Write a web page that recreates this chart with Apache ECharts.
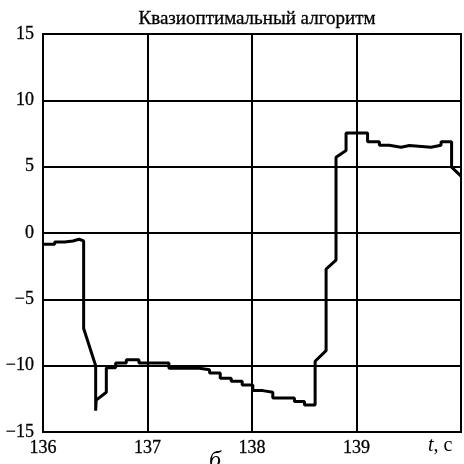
<!DOCTYPE html>
<html>
<head>
<meta charset="utf-8">
<script src="https://cdn.jsdelivr.net/npm/echarts@6/dist/echarts.min.js"></script>
<style>html,body{margin:0;padding:0;background:#fff}#c{width:464px;height:464px}</style>
</head>
<body>
<div id="c"></div>
<script>
var titleText = 'Квазиоптимальный алгоритм';
var xTicks = [136, 137, 138, 139, 140];
var yTicks = [-15, -10, -5, 0, 5, 10, 15];
var times = [
  136.000, 136.112, 136.112, 136.207, 136.207, 136.287, 136.287, 136.344, 136.344, 136.389,
  136.389, 136.504, 136.504, 136.509, 136.606, 136.606, 136.695, 136.695, 136.797, 136.797,
  136.918, 136.918, 137.205, 137.205, 137.498, 137.498, 137.594, 137.594, 137.696, 137.696,
  137.801, 137.801, 137.906, 137.906, 138.008, 138.008, 138.103, 138.103, 138.199, 138.199,
  138.406, 138.406, 138.502, 138.502, 138.604, 138.604, 138.709, 138.709, 138.804, 138.804,
  138.900, 138.900, 139.106, 139.106, 139.219, 139.219, 139.314, 139.314, 139.426, 139.426,
  139.506, 139.506, 139.713, 139.713, 139.809, 139.809, 139.910, 139.910, 140.000
];
var values = [
  -0.85, -0.85, -0.68, -0.68, -0.60, -0.60, -0.47, -0.47, -0.60, -0.60,
  -7.20, -10.00, -13.40, -12.60, -12.00, -10.15, -10.15, -9.80, -9.80, -9.55,
  -9.55, -9.80, -9.80, -10.20, -10.20, -10.30, -10.30, -10.55, -10.55, -10.95,
  -10.95, -11.18, -11.18, -11.45, -11.45, -11.88, -11.88, -12.00, -12.00, -12.43,
  -12.43, -12.70, -12.70, -12.96, -12.96, -9.67, -8.87, -2.73, -2.05, 5.71,
  6.22, 7.54, 7.54, 6.87, 6.87, 6.62, 6.62, 6.47, 6.47, 6.59,
  6.59, 6.47, 6.47, 6.62, 6.62, 6.87, 6.87, 4.96, 4.29
];
var axisName = 't';
var axisUnit = ', c';
var panelLetter = 'б';

var data = times.map(function (t, i) { return [t, values[i]]; });
var chart = echarts.init(document.getElementById('c'), null, {renderer: 'canvas'});
var font = 'Liberation Serif';
chart.setOption({
  animation: false,
  backgroundColor: '#fff',
  title: {
    text: titleText, left: 252, top: 5, textAlign: 'center',
    textStyle: {fontFamily: font, fontSize: 19, fontWeight: 'normal', color: '#000', textBorderColor: '#000', textBorderWidth: 0.3}
  },
  grid: {left: 43, right: 2, top: 34, bottom: 32, show: true, borderColor: '#000', borderWidth: 2, backgroundColor: 'transparent'},
  xAxis: {
    type: 'value', min: xTicks[0], max: xTicks[xTicks.length - 1], interval: 1,
    axisLine: {show: true, lineStyle: {color: '#000', width: 2}},
    axisTick: {show: false},
    splitLine: {show: true, lineStyle: {color: '#000', width: 2}},
    axisLabel: {
      color: '#000', fontFamily: font, fontSize: 18, margin: 7, textBorderColor: '#000', textBorderWidth: 0.3,
      formatter: function (v) { return v === 140 ? '' : String(v); }
    }
  },
  yAxis: {
    type: 'value', min: yTicks[0], max: yTicks[yTicks.length - 1], interval: 5,
    axisLine: {show: true, lineStyle: {color: '#000', width: 2}},
    axisTick: {show: false},
    splitLine: {show: true, lineStyle: {color: '#000', width: 2}},
    axisLabel: {color: '#000', fontFamily: font, fontSize: 18, margin: 9, textBorderColor: '#000', textBorderWidth: 0.3,
      formatter: function (v) { return v < 0 ? '\u2212' + Math.abs(v) : String(v); }}
  },
  graphic: [
    {type: 'text', left: 428, top: 436, style: {
      text: '{i|' + axisName + '}{n|' + axisUnit + '}',
      rich: {i: {fontFamily: font, fontStyle: 'italic', fontSize: 20, fill: '#000'},
             n: {fontFamily: font, fontSize: 20, fill: '#000'}}
    }},
    {type: 'text', left: 209, top: 449, style: {text: panelLetter, fontFamily: font, fontStyle: 'italic', fontSize: 24, fill: '#000'}}
  ],
  series: [{
    type: 'line', data: data, showSymbol: false, symbol: 'none',
    lineStyle: {color: '#000', width: 3}, z: 5
  }]
});
</script>
</body>
</html>
